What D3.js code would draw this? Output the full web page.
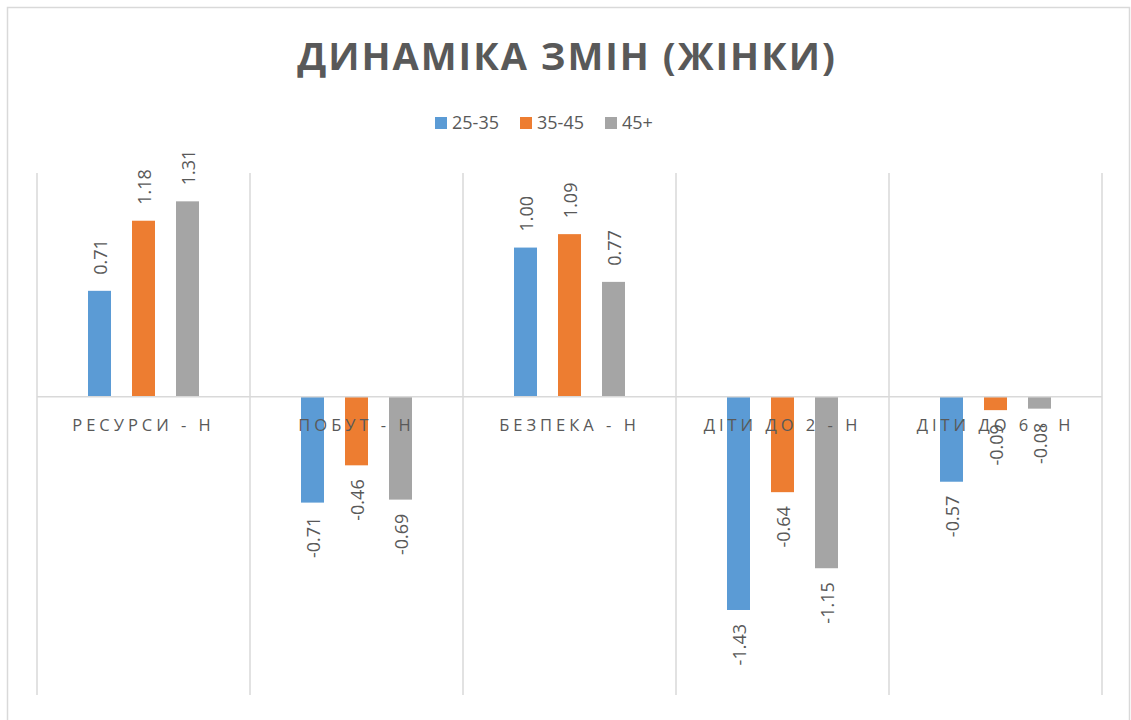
<!DOCTYPE html>
<html>
<head>
<meta charset="utf-8">
<script src="https://cdn.jsdelivr.net/npm/d3@7"></script>
<style>
  body { margin: 0; background: #fff; }
  svg { display: block; font-family: "Open Sans", "Noto Sans", sans-serif; }
</style>
</head>
<body>
<svg id="chart" width="1131" height="720"></svg>
<script>
const categories = ["РЕСУРСИ - Н", "ПОБУТ - Н", "БЕЗПЕКА - Н", "ДІТИ ДО 2 - Н", "ДІТИ ДО 6 - Н"];
const seriesNames = ["25-35", "35-45", "45+"];
const values2535 = [0.71, -0.71, 1.00, -1.43, -0.57];
const values3545 = [1.18, -0.46, 1.09, -0.64, -0.09];
const values45 = [1.31, -0.69, 0.77, -1.15, -0.08];
const colors = ["#5b9bd5", "#ed7d31", "#a5a5a5"];

const series = [values2535, values3545, values45];

const svg = d3.select("#chart");
const plotLeft = 37, plotRight = 1102, plotTop = 173, plotBottom = 695;

// outer chart border
svg.append("rect")
  .attr("x", 7.5).attr("y", 7.5)
  .attr("width", 1122).attr("height", 720)
  .attr("fill", "#fff")
  .attr("stroke", "#d9d9d9")
  .attr("stroke-width", 1.5);

svg.append("text")
  .attr("x", 567).attr("y", 70)
  .attr("text-anchor", "middle")
  .attr("fill", "#595959")
  .style("font-size", "38px")
  .style("font-weight", "bold")
  .style("letter-spacing", "2px")
  .text("ДИНАМІКА ЗМІН (ЖІНКИ)");

// legend
const legendX = [435, 520, 605];
const legend = svg.append("g");
seriesNames.forEach((name, i) => {
  legend.append("rect")
    .attr("x", legendX[i]).attr("y", 117)
    .attr("width", 12).attr("height", 12)
    .attr("fill", colors[i]);
  legend.append("text")
    .attr("x", legendX[i] + 17).attr("y", 129)
    .attr("fill", "#595959")
    .style("font-size", "18px")
    .text(name);
});

const x = d3.scaleBand().domain(categories).range([plotLeft, plotRight]);
const y = d3.scaleLinear().domain([-2, 1.5]).range([plotBottom, plotTop]);
const barW = 23, step = 44;

// vertical gridlines at category borders
const borders = categories.map(c => x(c)).concat([plotRight]);
svg.append("g").selectAll("line")
  .data(borders)
  .enter().append("line")
  .attr("x1", d => d).attr("x2", d => d)
  .attr("y1", plotTop).attr("y2", plotBottom)
  .attr("stroke", "#d9d9d9")
  .attr("stroke-width", 1.5);

const bars = svg.append("g");
series.forEach((vals, s) => {
  vals.forEach((v, i) => {
    const cx = x(categories[i]) + x.bandwidth() / 2 + (s - 1) * step;
    bars.append("rect")
      .attr("x", cx - barW / 2)
      .attr("y", y(Math.max(0, v)))
      .attr("width", barW)
      .attr("height", Math.abs(y(v) - y(0)))
      .attr("fill", colors[s]);
    const ly = v >= 0 ? y(v) - 16 : y(v) + 14;
    bars.append("text")
      .attr("transform", `translate(${cx + 7}, ${ly}) rotate(-90)`)
      .attr("text-anchor", v >= 0 ? "start" : "end")
      .attr("fill", "#595959")
      .style("font-size", "18px")
      .text(v.toFixed(2));
  });
});

// zero axis line
svg.append("line")
  .attr("x1", plotLeft).attr("x2", plotRight)
  .attr("y1", y(0)).attr("y2", y(0))
  .attr("stroke", "#d9d9d9")
  .attr("stroke-width", 1.5);

// category labels
svg.append("g").selectAll("text")
  .data(categories)
  .enter().append("text")
  .attr("x", d => x(d) + x.bandwidth() / 2)
  .attr("y", y(0) + 34)
  .attr("text-anchor", "middle")
  .attr("fill", "#595959")
  .style("font-size", "16.5px")
  .style("letter-spacing", "4px")
  .text(d => d);
</script>
</body>
</html>
